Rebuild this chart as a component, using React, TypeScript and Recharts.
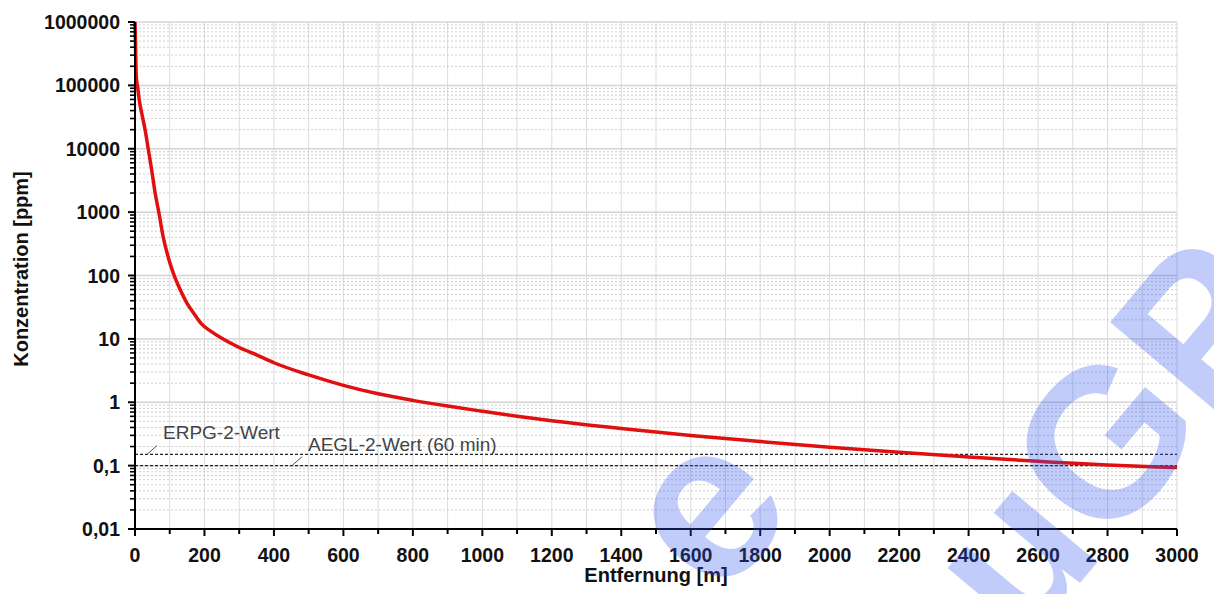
import React from 'react';
import { LineChart, Line, XAxis, YAxis, ReferenceLine } from 'recharts';

// Distance [m]
const distances = [0, 1, 2, 4, 8, 12, 20, 29, 38, 47, 58, 70, 81, 95, 110, 130, 149, 170, 190, 220, 250, 300, 350, 400, 500, 600, 700, 800, 900, 1000, 1100, 1200, 1400, 1600, 1800, 2000, 2200, 2400, 2600, 2800, 3000];
// Concentration [ppm]
const concentrations = [1000000, 600000, 300000, 130000, 90000, 60000, 35000, 20000, 10000, 5000, 2000, 900, 410, 200, 110, 60, 37, 25, 17.5, 13, 10.2, 7.3, 5.6, 4.2, 2.7, 1.85, 1.36, 1.07, 0.87, 0.72, 0.6, 0.51, 0.385, 0.3, 0.24, 0.195, 0.162, 0.137, 0.117, 0.102, 0.093];

const xTicks = Array.from({ length: 31 }, (_, i) => i * 100);
const yMajorTicks = [0.01, 0.1, 1, 10, 100, 1000, 10000, 100000, 1000000];
const yMinorFactors = [2, 3, 4, 5, 6, 7, 8, 9];

const ERPG2 = 0.15;
const AEGL2 = 0.1;

const yMinorTicks: number[] = [];
yMajorTicks.slice(0, -1).forEach((d) => {
  yMinorFactors.forEach((m) => yMinorTicks.push(parseFloat((m * d).toPrecision(3))));
});
const yAllTicks = [...yMajorTicks, ...yMinorTicks].sort((a, b) => a - b);

const data = distances.map((d, i) => ({ x: d, c: concentrations[i] }));

const FONT = '"Liberation Sans", Arial, Helvetica, sans-serif';

const fmtY = (v: number) => {
  if (v === 0.01) return '0,01';
  if (v === 0.1) return '0,1';
  return String(v);
};

const XTick = (props: any) => {
  const { x, y, payload } = props;
  const v = payload.value;
  const major = v % 200 === 0;
  return (
    <g>
      <line x1={x} y1={y} x2={x} y2={y + (major ? 7 : 5)} stroke="#000" strokeWidth={2} />
      {major && (
        <text x={x} y={y + 33} textAnchor="middle" fontFamily={FONT} fontWeight="bold" fontSize={19.5} fill="#111">
          {v}
        </text>
      )}
    </g>
  );
};

const YTick = (props: any) => {
  const { x, y, payload } = props;
  const v = payload.value;
  const major = yMajorTicks.includes(v);
  return (
    <g>
      <line x1={x - (major ? 7 : 5)} y1={y} x2={x} y2={y} stroke="#000" strokeWidth={major ? 2 : 1.6} />
      {major && (
        <text x={x - 15} y={y} dy="0.36em" textAnchor="end" fontFamily={FONT} fontWeight="bold" fontSize={19.5} fill="#111">
          {fmtY(v)}
        </text>
      )}
    </g>
  );
};

const RefLabel = (props: any) => {
  const { viewBox, text, lead } = props;
  const x = viewBox.x;
  const y = viewBox.y;
  return (
    <g>
      <line x1={x + lead} y1={y} x2={x + lead + 10} y2={y - 9} stroke="#555" strokeWidth={1} />
      <text x={x + lead + 16} y={y - 15} fontFamily={FONT} fontSize={19} fill="#444">
        {text}
      </text>
    </g>
  );
};

export default function App() {
  return (
    <div style={{ position: 'absolute', left: 0, top: 0, width: 1214, height: 594, background: '#fff', overflow: 'hidden' }}>
      <LineChart width={1214} height={594} data={data} margin={{ top: 22, right: 37, left: 0, bottom: 0 }}>
        {xTicks.map((v) => (
          <ReferenceLine key={'gx' + v} x={v} stroke="#dcdcdc" strokeWidth={1} />
        ))}
        {yMinorTicks.map((v) => (
          <ReferenceLine key={'gym' + v} y={v} stroke="#cfcfcf" strokeWidth={1} strokeDasharray="2 2" />
        ))}
        {yMajorTicks.map((v) => (
          <ReferenceLine key={'gyM' + v} y={v} stroke="#d4d4d4" strokeWidth={1.5} />
        ))}
        <XAxis
          dataKey="x"
          type="number"
          domain={[0, 3000]}
          ticks={xTicks}
          interval={0}
          height={65}
          tickSize={0}
          tickMargin={0}
          tickLine={false}
          axisLine={{ stroke: '#000', strokeWidth: 2 }}
          tick={<XTick />}
        />
        <YAxis
          dataKey="c"
          type="number"
          scale="log"
          domain={[0.01, 1000000]}
          allowDataOverflow
          ticks={yAllTicks}
          interval={0}
          width={135}
          tickSize={0}
          tickMargin={0}
          tickLine={false}
          axisLine={{ stroke: '#000', strokeWidth: 2 }}
          tick={<YTick />}
        />
        <ReferenceLine
          y={ERPG2}
          stroke="#222"
          strokeWidth={1.2}
          strokeDasharray="3 2"
          label={<RefLabel text="ERPG-2-Wert" lead={12} />}
        />
        <ReferenceLine
          y={AEGL2}
          stroke="#222"
          strokeWidth={1.2}
          strokeDasharray="3 2"
          label={<RefLabel text="AEGL-2-Wert (60 min)" lead={157} />}
        />
        <Line
          type="monotone"
          dataKey="c"
          stroke="#e01010"
          strokeWidth={3.5}
          dot={false}
          isAnimationActive={false}
        />
      </LineChart>
      <svg
        width={1214}
        height={594}
        style={{ position: 'absolute', left: 0, top: 0, pointerEvents: 'none' }}
      >
        <text
          x={0}
          y={0}
          transform="translate(21,269) rotate(-90)"
          textAnchor="middle"
          dominantBaseline="central"
          fontFamily={FONT}
          fontWeight="bold"
          fontSize={20}
          fill="#111"
        >
          Konzentration [ppm]
        </text>
        <text x={656} y={582} textAnchor="middle" fontFamily={FONT} fontWeight="bold" fontSize={20} fill="#111">
          Entfernung [m]
        </text>
        <g fill="#3355ee" fillOpacity={0.3} fontFamily={FONT} fontWeight="bold">
          <text
            x={0}
            y={0}
            transform="translate(700,505) rotate(-50)"
            textAnchor="middle"
            dominantBaseline="central"
            fontSize={225}
          >
            e
          </text>
          <text
            x={0}
            y={0}
            transform="translate(1070,482) rotate(-50)"
            textAnchor="middle"
            dominantBaseline="central"
            fontSize={210}
          >
            auGP
          </text>
        </g>
      </svg>
    </div>
  );
}
